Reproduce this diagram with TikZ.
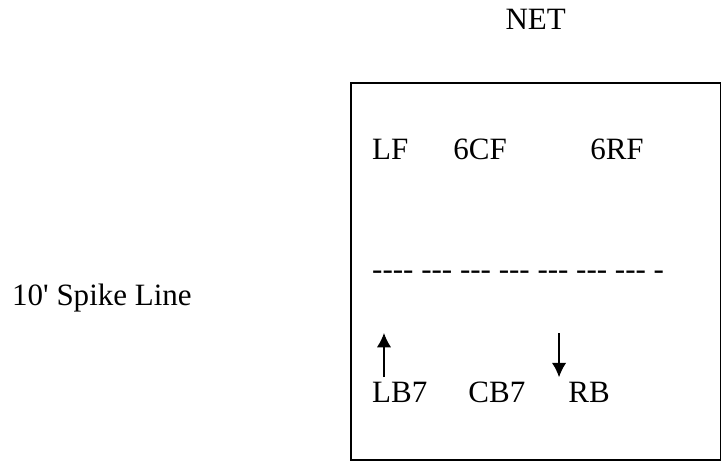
\documentclass[tikz,border=0pt]{standalone}
\usepackage{fontspec}
\setmainfont{Liberation Serif}
\usetikzlibrary{positioning,arrows.meta}

\newcommand{\dsh}{-{}-{}-}

\begin{document}
\begin{tikzpicture}[
  >={Latex[length=5mm,width=5mm]},
  lbl/.style={anchor=base west,inner sep=0pt,font=\fontsize{31}{37}\selectfont},
  auto]
\useasboundingbox (0,0) rectangle (25.4,-16.31);
\node[draw,line width=1.6pt,rectangle,minimum width=12.97cm,minimum height=13.25cm] (field) at (18.82,-9.54) {};
\node[lbl,above=1.86cm of field] (NET) {NET};
\node[lbl] (spike) at (0.42,-10.72) {10\textquotesingle{} Spike Line};
\node[lbl] (LF) at (13.07,-5.59) {LF};
\node[lbl] (CF) at (15.92,-5.59) {6CF};
\node[lbl] (RF) at (20.73,-5.59) {6RF};
\node[lbl] (dashes) at (13.07,-9.81) {-{}\dsh{} \dsh{} \dsh{} \dsh{} \dsh{} \dsh{} \dsh{} -};
\node[lbl] (LB) at (13.07,-14.13) {LB7};
\node[lbl] (CB) at (16.45,-14.13) {CB7};
\node[lbl] (RB) at (19.96,-14.13) {RB};

\coordinate (upfoot) at (13.49,-13.25);
\coordinate (uptip) at (13.49,-11.70);
\coordinate (downtop) at (19.64,-11.70);
\coordinate (downtip) at (19.64,-13.25);

\draw[->,line width=1.2pt] (upfoot) -- (uptip);
\draw[->,line width=1.2pt] (downtop) -- (downtip);
\end{tikzpicture}
\end{document}
